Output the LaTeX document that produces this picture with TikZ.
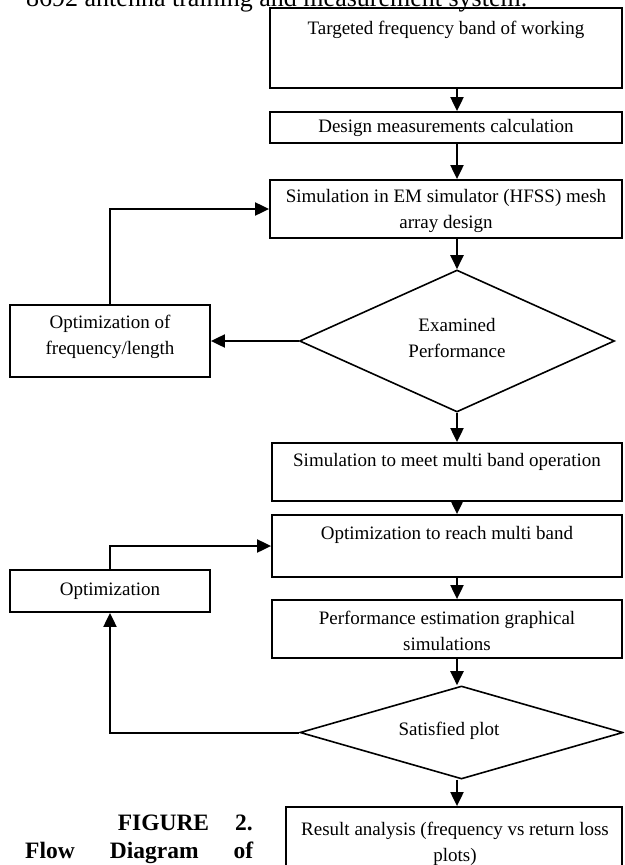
\documentclass[tikz,border=0pt]{standalone}
\usepackage{fontspec}
\setmainfont{Liberation Serif}
\usetikzlibrary{arrows.meta,shapes.geometric,calc}
\tikzset{
  box/.style={draw, line width=1.8pt, rectangle, inner sep=0pt},
  dia/.style={draw, line width=1.6pt, diamond, inner sep=0pt},
  txt/.style={inner sep=0pt, align=center, font=\fontsize{19}{26}\selectfont},
  arr/.style={line width=2pt, -{Triangle[length=14pt,width=13pt]}},
  captxt/.style={inner sep=0pt, font=\bfseries\fontsize{23.5}{28}\selectfont}
}
\begin{document}
\begin{tikzpicture}[x=1pt,y=-1pt]
\useasboundingbox (0,0) rectangle (624,865);
\begin{scope}
\clip (0,0) rectangle (624,865);
\fill[white] (0,0) rectangle (624,865);
% header line (clipped at the top, as in the reference)
\node[anchor=base west, inner sep=0pt, font=\fontsize{26}{30}\selectfont] (hdr) at (26,6) {8692 antenna training and measurement system.};

% boxes
\node[box, minimum width=352pt, minimum height=80pt] (b1) at (446,48) {};
\node[box, minimum width=352pt, minimum height=31pt] (b2) at (446,127.5) {};
\node[box, minimum width=352pt, minimum height=58pt] (b3) at (446,209) {};
\node[dia, minimum width=315pt, minimum height=142pt] (d1) at (457,341) {};
\node[box, minimum width=200pt, minimum height=72pt] (o1) at (110,341) {};
\node[box, minimum width=350pt, minimum height=58pt] (b4) at (447,472) {};
\node[box, minimum width=350pt, minimum height=62pt] (b5) at (447,546) {};
\node[box, minimum width=350pt, minimum height=58pt] (b6) at (447,629) {};
\node[box, minimum width=200pt, minimum height=42pt] (o2) at (110,591) {};
\node[dia, minimum width=323pt, minimum height=93pt] (d2) at (461.5,732.5) {};
\node[box, minimum width=336pt, minimum height=93pt] (b7) at (454,853.5) {};

% texts
\node[txt] (t1) at (446,30) {Targeted frequency band of working};
\node[txt] (t2) at (446,128) {Design measurements calculation};
\node[txt] (t3) at (446,211) {Simulation in EM simulator (HFSS) mesh\\array design};
\node[txt] (td1) at (457,338) {Examined\\Performance};
\node[txt] (to1) at (110,337) {Optimization of\\frequency/length};
\node[txt] (t4) at (447,462) {Simulation to meet multi band operation};
\node[txt] (t5) at (447,535) {Optimization to reach multi band};
\node[txt] (t6) at (447,631) {Performance estimation graphical\\simulations};
\node[txt] (to2) at (110,591) {Optimization};
\node[txt] (td2) at (449,731) {Satisfied plot};
\node[txt] (t7) at (455,844) {Result analysis (frequency vs return loss\\plots)};

% caption
\node[captxt, anchor=base east] (cap1) at (253,830) {FIGURE\hspace{26pt}2.};
\node[captxt, anchor=base west] (cap2) at (25,858) {\makebox[228pt][s]{Flow Diagram of}};

% connectors
\coordinate (ax) at (457,0);
\draw[arr] (ax |- b1.south) -- (ax |- b2.north);
\draw[arr] (ax |- b2.south) -- (ax |- b3.north);
\draw[arr] (ax |- b3.south) -- (d1.north);
\draw[arr] (d1.west) -- (o1.east);
\draw[arr] (o1.north) |- (b3.west);
\draw[arr] (d1.south) -- (ax |- b4.north);
\draw[arr] (ax |- b4.south) -- (ax |- b5.north);
\draw[arr] (ax |- b5.south) -- (ax |- b6.north);
\draw[arr] (ax |- b6.south) -- (ax |- d2.north);
\draw[arr] (d2.west) -| (o2.south);
\draw[arr] (o2.north) |- (b5.west);
\draw[arr] (ax |- d2.south) -- (ax |- b7.north);
\end{scope}
\end{tikzpicture}
\end{document}
